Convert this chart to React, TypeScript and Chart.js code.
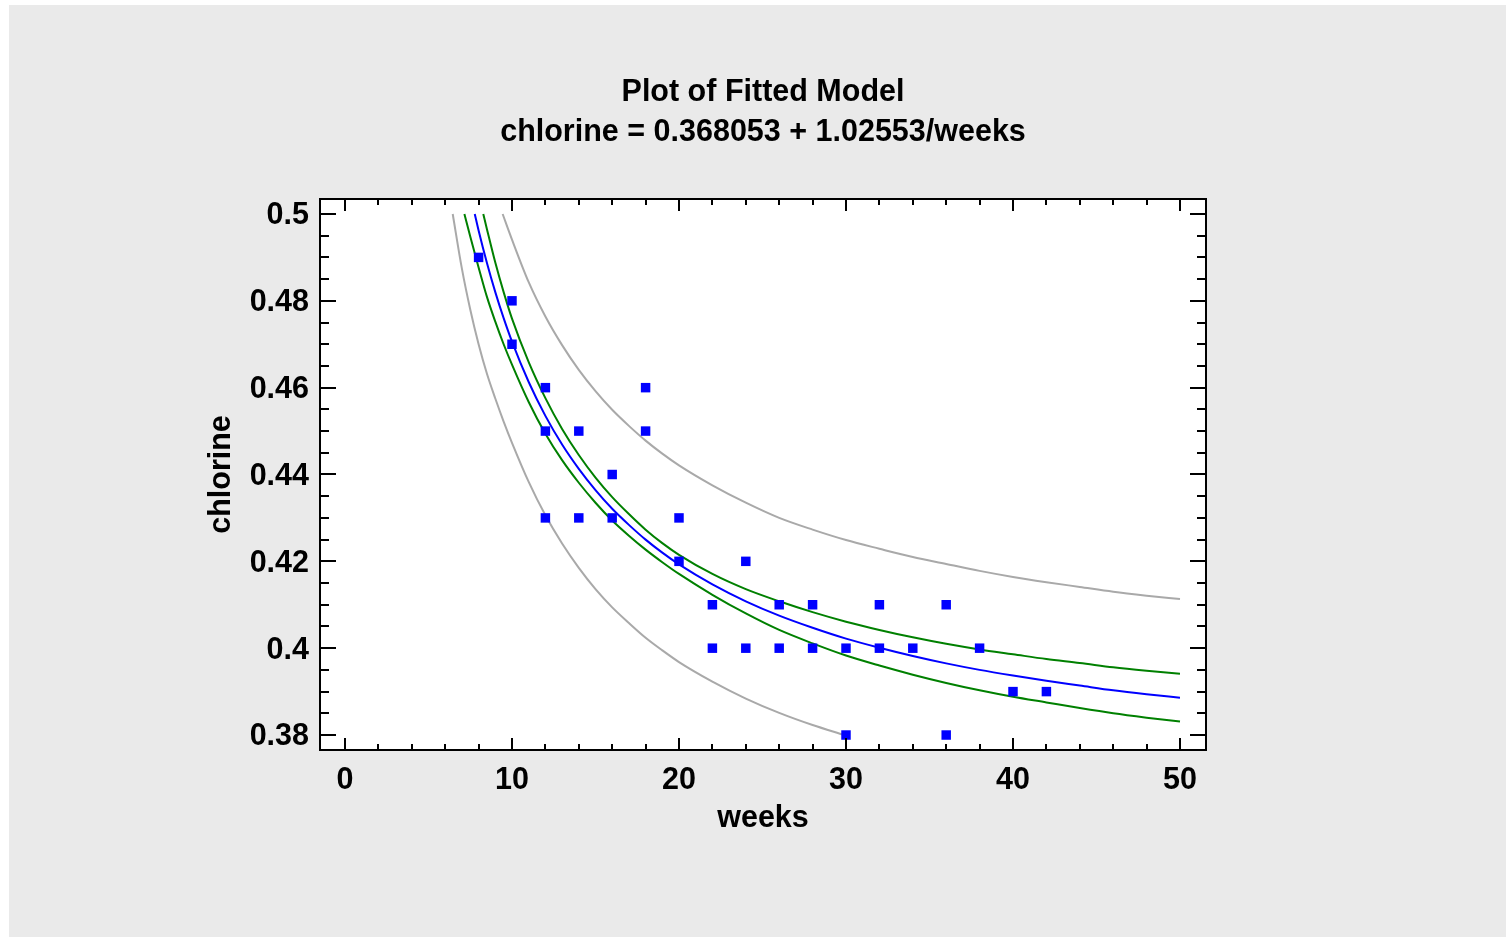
import React, { useEffect, useRef } from "react";
import { Chart, registerables } from "chart.js";

Chart.register(...registerables);

// ---- texts ----
const titleLines = ["Plot of Fitted Model", "chlorine = 0.368053 + 1.02553/weeks"];
const xAxisTitle = "weeks";
const yAxisTitle = "chlorine";

// ---- ticks ----
const xTickValues = [0, 10, 20, 30, 40, 50];
const xTickLabels = ["0", "10", "20", "30", "40", "50"];
const yTickValues = [0.38, 0.4, 0.42, 0.44, 0.46, 0.48, 0.5];
const yTickLabels = ["0.38", "0.4", "0.42", "0.44", "0.46", "0.48", "0.5"];
const xMinorTicks = [0, 2, 4, 6, 8, 10, 12, 14, 16, 18, 20, 22, 24, 26, 28, 30, 32, 34, 36, 38, 40, 42, 44, 46, 48, 50];
const yMinorTicks = [
  0.38, 0.385, 0.39, 0.395, 0.4, 0.405, 0.41, 0.415, 0.42, 0.425, 0.43, 0.435, 0.44,
  0.445, 0.45, 0.455, 0.46, 0.465, 0.47, 0.475, 0.48, 0.485, 0.49, 0.495, 0.5,
];

// ---- observed data ----
const weeks = [8, 10, 10, 12, 12, 12, 14, 14, 16, 16, 18, 18, 20, 20, 22, 22, 24, 24, 26, 26, 28, 28, 30, 30, 32, 32, 34, 36, 36, 38, 40, 42];
const chlorine = [0.49, 0.48, 0.47, 0.46, 0.45, 0.43, 0.45, 0.43, 0.44, 0.43, 0.46, 0.45, 0.43, 0.42, 0.41, 0.40, 0.42, 0.40, 0.41, 0.40, 0.41, 0.40, 0.40, 0.38, 0.41, 0.40, 0.40, 0.41, 0.38, 0.40, 0.39, 0.39];

// ---- fitted line ----
const fitX = [7.77, 8, 8.5, 9, 9.5, 10, 11, 12, 13, 14, 15, 16, 17, 18, 19, 20, 22, 24, 26, 28, 30, 32, 34, 36, 38, 40, 42, 44, 46, 48, 50];
const fitY = [0.5, 0.4962, 0.4887, 0.482, 0.476, 0.4706, 0.4613, 0.4535, 0.4469, 0.4413, 0.4364, 0.4321, 0.4284, 0.425, 0.422, 0.4193, 0.4147, 0.4108, 0.4075, 0.4047, 0.4022, 0.4001, 0.3982, 0.3965, 0.395, 0.3937, 0.3925, 0.3914, 0.3903, 0.3894, 0.3886];

// ---- confidence limits (green) ----
const confHiX = [8.28, 8.5, 9, 9.5, 10, 11, 12, 13, 14, 15, 16, 17, 18, 19, 20, 22, 24, 26, 28, 30, 32, 34, 36, 38, 40, 42, 44, 46, 48, 50];
const confHiY = [0.5, 0.4965, 0.4888, 0.482, 0.4759, 0.4659, 0.4576, 0.4505, 0.4445, 0.4393, 0.4348, 0.4309, 0.4273, 0.4242, 0.4215, 0.4171, 0.4136, 0.4108, 0.4083, 0.4061, 0.4042, 0.4025, 0.401, 0.3997, 0.3986, 0.3975, 0.3966, 0.3956, 0.3948, 0.3941];
const confLoX = [7.15, 7.5, 8, 8.5, 9, 9.5, 10, 11, 12, 13, 14, 15, 16, 17, 18, 19, 20, 22, 24, 26, 28, 30, 32, 34, 36, 38, 40, 42, 44, 46, 48, 50];
const confLoY = [0.5, 0.4948, 0.4877, 0.4809, 0.4752, 0.47, 0.4653, 0.4567, 0.4494, 0.4433, 0.4381, 0.4335, 0.4294, 0.4259, 0.4227, 0.4198, 0.4171, 0.4123, 0.408, 0.4042, 0.4011, 0.3983, 0.396, 0.3939, 0.392, 0.3903, 0.3888, 0.3875, 0.3862, 0.385, 0.384, 0.3831];

// ---- prediction limits (gray) ----
const predHiX = [9.44, 10, 11, 12, 13, 14, 15, 16, 17, 18, 19, 20, 22, 24, 26, 28, 30, 32, 34, 36, 38, 40, 42, 44, 46, 48, 50];
const predHiY = [0.5, 0.4941, 0.4843, 0.4764, 0.4698, 0.4641, 0.4592, 0.4549, 0.4512, 0.4478, 0.4448, 0.4421, 0.4375, 0.4335, 0.43, 0.4273, 0.4249, 0.4229, 0.421, 0.4194, 0.4178, 0.4164, 0.4152, 0.4141, 0.413, 0.4121, 0.4113];
const predLoX = [6.45, 7, 7.5, 8, 8.5, 9, 9.5, 10, 11, 12, 13, 14, 15, 16, 17, 18, 19, 20, 22, 24, 26, 28, 29.9];
const predLoY = [0.5, 0.4874, 0.478, 0.47, 0.4632, 0.4575, 0.4522, 0.4473, 0.4383, 0.4306, 0.4241, 0.4185, 0.4136, 0.4094, 0.4058, 0.4024, 0.3995, 0.3968, 0.3923, 0.3884, 0.3851, 0.3823, 0.38];

const FONT_FAMILY = "'Liberation Sans', Arial, Helvetica, sans-serif";
const FONT_SIZE = 30.5;

const toPts = (xs: number[], ys: number[]) => xs.map((x, i) => ({ x, y: ys[i] }));

const framePlugin = {
  id: "statFrame",
  beforeDraw(chart: any) {
    const { ctx, width, height, chartArea: a } = chart;
    ctx.save();
    ctx.fillStyle = "#ffffff";
    ctx.fillRect(0, 0, width, height);
    ctx.fillStyle = "#eaeaea";
    ctx.fillRect(9, 5, width - 9, height - 5);
    ctx.fillStyle = "#ffffff";
    ctx.fillRect(a.left, a.top, a.right - a.left, a.bottom - a.top);
    ctx.restore();
  },
  afterDraw(chart: any) {
    const { ctx, chartArea: a, scales } = chart;
    const xs = scales.x;
    const ys = scales.y;
    ctx.save();
    ctx.strokeStyle = "#000000";
    ctx.lineWidth = 2;
    ctx.beginPath();
    xMinorTicks.forEach((v) => {
      const major = xTickValues.indexOf(v) >= 0;
      const len = major ? 12 : 6;
      const px = Math.round(xs.getPixelForValue(v));
      ctx.moveTo(px, a.bottom);
      ctx.lineTo(px, a.bottom - len);
      ctx.moveTo(px, a.top);
      ctx.lineTo(px, a.top + len);
    });
    yMinorTicks.forEach((v) => {
      const major = yTickValues.some((t) => Math.abs(t - v) < 1e-9);
      const len = major ? 16 : 9;
      const py = Math.round(ys.getPixelForValue(v));
      ctx.moveTo(a.left, py);
      ctx.lineTo(a.left + len, py);
      ctx.moveTo(a.right, py);
      ctx.lineTo(a.right - len, py);
    });
    ctx.stroke();
    ctx.strokeRect(a.left, a.top, a.right - a.left, a.bottom - a.top);
    ctx.restore();
  },
};

export default function App() {
  const canvasRef = useRef<HTMLCanvasElement | null>(null);

  useEffect(() => {
    if (!canvasRef.current) return;
    const font = { family: FONT_FAMILY, size: FONT_SIZE, weight: "bold" as const };
    const lineDs = (label: string, xs: number[], ys: number[], color: string) => ({
      label,
      data: toPts(xs, ys),
      showLine: true,
      borderColor: color,
      backgroundColor: color,
      borderWidth: 2,
      pointRadius: 0,
      pointHoverRadius: 0,
      fill: false,
      cubicInterpolationMode: "monotone" as const,
    });

    const chart = new Chart(canvasRef.current, {
      type: "scatter",
      data: {
        datasets: [
          {
            label: "observed",
            data: toPts(weeks, chlorine),
            pointStyle: "rect",
            pointRadius: 6.7,
            pointHoverRadius: 6.7,
            pointBorderWidth: 0,
            backgroundColor: "#0000ff",
            borderColor: "#0000ff",
            showLine: false,
          } as any,
          lineDs("fitted", fitX, fitY, "#0000ff"),
          lineDs("conf upper", confHiX, confHiY, "#008000"),
          lineDs("conf lower", confLoX, confLoY, "#008000"),
          lineDs("pred upper", predHiX, predHiY, "#a9a9a9"),
          lineDs("pred lower", predLoX, predLoY, "#a9a9a9"),
        ],
      },
      options: {
        responsive: false,
        animation: false,
        devicePixelRatio: 1,
        layout: { autoPadding: false, padding: { left: 0, top: 0, right: 300, bottom: 0 } },
        plugins: {
          legend: { display: false },
          tooltip: { enabled: false },
          title: {
            display: true,
            text: titleLines,
            fullSize: false,
            color: "#000000",
            font: { ...font, lineHeight: 40 / FONT_SIZE },
            padding: { top: 73, bottom: 46 },
          },
        },
        scales: {
          x: {
            type: "linear",
            min: -1.497,
            max: 51.557,
            grid: { display: false, drawTicks: false },
            border: { display: false },
            afterBuildTicks: (axis: any) => {
              axis.ticks = xTickValues.map((v) => ({ value: v }));
            },
            ticks: {
              color: "#000000",
              font,
              padding: 12.7,
              maxRotation: 0,
              autoSkip: false,
              callback: (_v: any, i: number) => xTickLabels[i],
            },
            title: {
              display: true,
              text: xAxisTitle,
              color: "#000000",
              font,
              padding: { top: 0, bottom: 99.7 },
            },
            afterFit: (s: any) => {
              s.height = 187;
            },
          },
          y: {
            type: "linear",
            min: 0.37655,
            max: 0.50345,
            grid: { display: false, drawTicks: false },
            border: { display: false },
            afterBuildTicks: (axis: any) => {
              axis.ticks = yTickValues.map((v) => ({ value: v }));
            },
            ticks: {
              color: "#000000",
              font,
              padding: 11,
              labelOffset: 2,
              autoSkip: false,
              callback: (_v: any, i: number) => yTickLabels[i],
            },
            title: {
              display: true,
              text: yAxisTitle,
              color: "#000000",
              font,
              padding: { top: 203.7, bottom: 0 },
            },
            afterFit: (s: any) => {
              s.width = 320;
            },
          },
        },
      } as any,
      plugins: [framePlugin],
    });
    return () => chart.destroy();
  }, []);

  return (
    <div style={{ position: "absolute", left: 0, top: 0, width: 1506, height: 937 }}>
      <canvas ref={canvasRef} width={1506} height={937} style={{ display: "block" }} />
    </div>
  );
}
